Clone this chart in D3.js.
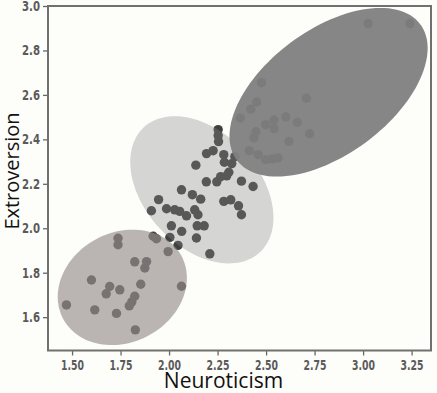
<!DOCTYPE html>
<html>
<head>
<meta charset="utf-8">
<script src="https://cdn.jsdelivr.net/npm/d3@7"></script>
<style>
  html, body { margin: 0; padding: 0; background: #fdfdfa; }
  svg { display: block; }
</style>
</head>
<body>
<svg></svg>
<script>
// neuroticism (x) / extroversion (y) for the three groups
const lowX = [1.737, 1.737, 1.823, 1.884, 1.875, 1.600, 1.694, 1.676, 1.746, 1.854, 1.823, 1.808, 1.795,
  1.471, 1.617, 1.729, 1.826, 2.064, 1.918, 1.935, 1.995];
const lowY = [1.955, 1.926, 1.849, 1.850, 1.821, 1.767, 1.738, 1.705, 1.723, 1.748, 1.694, 1.669, 1.651,
  1.655, 1.633, 1.617, 1.543, 1.739, 1.964, 1.953, 1.895];

const midX = [2.253, 2.253, 2.255, 2.193, 2.227, 2.282, 2.285, 2.323, 2.339, 2.138, 2.308, 2.266, 2.297,
  2.246, 2.192, 2.373, 2.433, 2.064, 2.120, 2.163, 2.282, 2.318, 2.358, 2.373, 1.946, 1.909, 1.987,
  2.029, 2.055, 2.090, 2.132, 2.149, 2.012, 2.065, 2.145, 2.181, 2.141, 2.004, 2.046, 2.210];
const midY = [2.444, 2.417, 2.390, 2.336, 2.349, 2.331, 2.297, 2.291, 2.322, 2.284, 2.252, 2.232, 2.236,
  2.209, 2.209, 2.212, 2.188, 2.173, 2.151, 2.131, 2.121, 2.128, 2.101, 2.061, 2.129, 2.079, 2.088,
  2.083, 2.076, 2.056, 2.083, 2.061, 2.011, 1.986, 2.011, 2.011, 1.956, 1.959, 1.923, 1.885];

const highX = [3.026, 3.241, 2.476, 2.708, 2.452, 2.421, 2.367, 2.602, 2.541, 2.498, 2.541, 2.661, 2.724,
  2.618, 2.448, 2.437, 2.413, 2.459, 2.498, 2.532, 2.562];
const highY = [2.921, 2.921, 2.655, 2.585, 2.568, 2.536, 2.496, 2.501, 2.487, 2.466, 2.448, 2.477, 2.425,
  2.391, 2.434, 2.406, 2.349, 2.331, 2.309, 2.312, 2.316];

// cluster ellipses in data units: centre, full width / height, angle (deg)
const ellCx = [2.822, 2.169, 1.759];
const ellCy = [2.612, 2.173, 1.734];
const ellW = [1.13, 0.827, 0.678];
const ellH = [0.585, 0.547, 0.503];
const ellAngle = [30, -37, 16.5];

const xTicks = [1.50, 1.75, 2.00, 2.25, 2.50, 2.75, 3.00, 3.25];
const yTicks = [1.6, 1.8, 2.0, 2.2, 2.4, 2.6, 2.8, 3.0];

const W = 437, H = 393;
const svg = d3.select("svg").attr("width", W).attr("height", H);

const x = d3.scaleLinear().domain([1.376, 3.35]).range([48, 431]);
const y = d3.scaleLinear().domain([1.45, 3.0]).range([350.5, 6]);

const points = [];
lowX.forEach((v, i) => points.push([v, lowY[i]]));
midX.forEach((v, i) => points.push([v, midY[i]]));
highX.forEach((v, i) => points.push([v, highY[i]]));

svg.append("g").selectAll("circle").data(points).enter().append("circle")
  .attr("cx", d => x(d[0])).attr("cy", d => y(d[1]))
  .attr("r", 4.7).attr("fill", "#404040");

// ellipses painted over the dots, like the original
const ellFill = ["#7e7e7e", "#868686", "rgb(150,143,141)"];
const ellOpacity = [0.94, 0.34, 0.65];
const line = d3.line().x(d => x(d[0])).y(d => y(d[1])).curve(d3.curveLinearClosed);

ellCx.forEach((cx, i) => {
  const a = ellAngle[i] * Math.PI / 180;
  const pts = d3.range(0, 120).map(k => {
    const t = k / 120 * 2 * Math.PI;
    const dx = ellW[i] / 2 * Math.cos(t), dy = ellH[i] / 2 * Math.sin(t);
    return [cx + dx * Math.cos(a) - dy * Math.sin(a), ellCy[i] + dx * Math.sin(a) + dy * Math.cos(a)];
  });
  svg.append("path").attr("d", line(pts))
    .attr("fill", ellFill[i]).attr("fill-opacity", ellOpacity[i]);
});

// axes
const xAxis = svg.append("g").attr("transform", "translate(0,350.5)")
  .call(d3.axisBottom(x).tickValues(xTicks).tickFormat(d3.format(".2f")).tickSize(5).tickPadding(5));
const yAxis = svg.append("g").attr("transform", "translate(48,0)")
  .call(d3.axisLeft(y).tickValues(yTicks).tickFormat(d3.format(".1f")).tickSize(5).tickPadding(3));

[xAxis, yAxis].forEach(g => {
  g.select(".domain").remove();
  g.selectAll(".tick line").attr("stroke", "#666").attr("stroke-width", 1.3);
  g.selectAll(".tick text").attr("fill", "#5a5a5a")
    .style("font-family", "'DejaVu Sans Condensed', 'DejaVu Sans', sans-serif")
    .style("font-size", "14px").style("font-weight", "bold")
    .attr("lengthAdjust", "spacingAndGlyphs");
});
xAxis.selectAll(".tick text").attr("textLength", 23);
yAxis.selectAll(".tick text").attr("textLength", 18);

svg.append("rect").attr("x", 48).attr("y", 6).attr("width", 383).attr("height", 344.5)
  .attr("fill", "none").attr("stroke", "#707070").attr("stroke-width", 2);

svg.append("text").attr("x", 223.5).attr("y", 388)
  .attr("text-anchor", "middle")
  .style("font-family", "'Open Sans', sans-serif").style("font-size", "21px")
  .attr("fill", "#111").text("Neuroticism");

svg.append("text").attr("transform", "translate(19,171) rotate(-90)")
  .attr("text-anchor", "middle")
  .style("font-family", "'Open Sans', sans-serif").style("font-size", "20px")
  .attr("fill", "#111").text("Extroversion");
</script>
</body>
</html>
